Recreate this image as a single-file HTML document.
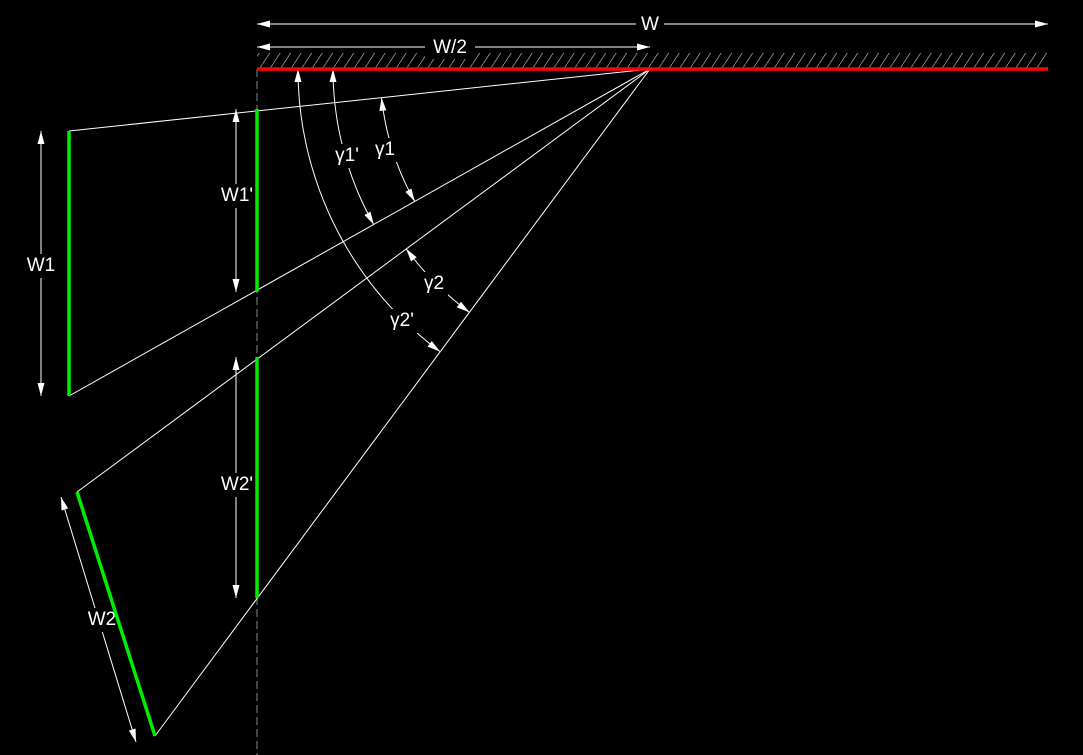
<!DOCTYPE html>
<html><head><meta charset="utf-8"><style>
html,body{margin:0;padding:0;background:#000;}
svg{display:block;}
text{font-family:"Liberation Sans",sans-serif;fill:#fff;font-size:19px;text-anchor:middle;dominant-baseline:middle;}
</style></head><body>
<svg id="s" width="1083" height="755" viewBox="0 0 1083 755" xmlns="http://www.w3.org/2000/svg">
<defs>
<pattern id="h" width="10.5" height="16" patternUnits="userSpaceOnUse">
<line x1="0" y1="16" x2="10.5" y2="0" stroke="#999" stroke-width="0.8"/>
</pattern>
</defs>
<rect x="257" y="53" width="791" height="15" fill="url(#h)"/>
<line x1="257" y1="69" x2="257" y2="755" stroke="#888" stroke-width="1" stroke-dasharray="8,4"/>
<g stroke="#fff" stroke-width="1" fill="none">
<line x1="650" y1="69" x2="69" y2="131"/>
<line x1="650" y1="69" x2="69" y2="396"/>
<line x1="650" y1="69" x2="77" y2="492"/>
<line x1="650" y1="69" x2="155" y2="736"/>
<line x1="257" y1="24" x2="1048" y2="24"/>
<line x1="257" y1="47" x2="650" y2="47"/>
<line x1="41" y1="131" x2="41" y2="396"/>
<line x1="236" y1="109" x2="236" y2="292"/>
<line x1="236" y1="357" x2="236" y2="598"/>
<line x1="61" y1="497" x2="136" y2="742"/>
</g>
<g id="arcs" stroke="#fff" stroke-width="1" fill="none"></g>
<g id="arr" fill="#fff"></g>
<g>
<rect x="636" y="12" width="28" height="24" fill="#000"/><text x="650" y="25">W</text>
<rect x="425" y="35" width="50" height="24" fill="#000"/><text x="450" y="48">W/2</text>
<rect x="24" y="254" width="36" height="24" fill="#000"/><text x="41" y="266">W1</text>
<rect x="216" y="184" width="40" height="24" fill="#000"/><text x="237" y="196">W1'</text>
<rect x="216" y="473" width="40" height="24" fill="#000"/><text x="237" y="485">W2'</text>
<rect x="82" y="608" width="40" height="24" fill="#000"/><text x="102" y="620">W2</text>
<rect x="333" y="144" width="30" height="24" fill="#000"/><text x="347" y="156">γ1'</text>
<rect x="372" y="138" width="26" height="24" fill="#000"/><text x="385" y="150">γ1</text>
<rect x="420" y="272" width="28" height="24" fill="#000"/><text x="434" y="284">γ2</text>
<rect x="386" y="309" width="32" height="24" fill="#000"/><text x="402" y="321">γ2'</text>
</g>
<line x1="257" y1="69" x2="1048" y2="69" stroke="#f00" stroke-width="3.5"/>
<g stroke="#0e0" stroke-width="3.5">
<line x1="69" y1="131" x2="69" y2="396"/>
<line x1="77" y1="492" x2="155" y2="736"/>
<line x1="257" y1="109" x2="257" y2="292"/>
<line x1="257" y1="357" x2="257" y2="598"/>
</g>
</svg>
<script>
var P=[650,69],ns="http://www.w3.org/2000/svg";
var A=document.getElementById('arcs'),R=document.getElementById('arr');
function pt(r,a){a=a*Math.PI/180;return [P[0]+r*Math.cos(a),P[1]+r*Math.sin(a)];}
function arc(r,a1,a2){var p=document.createElementNS(ns,'path'),d='';
for(var a=a1,i=0;;i++){var q=pt(r,a);d+=(i?'L':'M')+q[0].toFixed(1)+' '+q[1].toFixed(1);if(a===a2)break;a+= (a2>a1?0.5:-0.5);if((a2>a1&&a>a2)||(a2<a1&&a<a2))a=a2;}
p.setAttribute('d',d);A.appendChild(p);}
function head(x,y,ang){var a=ang*Math.PI/180,L=13,W=3.5;var bx=x-L*Math.cos(a),by=y-L*Math.sin(a);
var px=-Math.sin(a)*W,py=Math.cos(a)*W;var t=document.createElementNS(ns,'polygon');
t.setAttribute('points',x+','+y+' '+(bx+px)+','+(by+py)+' '+(bx-px)+','+(by-py));R.appendChild(t);}
function arcHead(r,a,dir){var q=pt(r,a);head(q[0],q[1],a+90*dir);}
arc(317,180,150.6);arcHead(317,180,1);arcHead(317,150.6,-1);
arc(352,180,126.6);arcHead(352,180,1);arcHead(352,126.6,-1);
arc(270,173.9,150.6);arcHead(270,173.9,1);arcHead(270,150.6,-1);
arc(303,143.6,126.6);arcHead(303,143.6,1);arcHead(303,126.6,-1);
head(257,24,180);head(1048,24,0);head(257,47,180);head(650,47,0);
head(41,131,-90);head(41,396,90);head(236,109,-90);head(236,292,90);
head(236,357,-90);head(236,598,90);
var ang=Math.atan2(245,75)*180/Math.PI;head(61,497,ang+180);head(136,742,ang);
</script>
</body></html>
